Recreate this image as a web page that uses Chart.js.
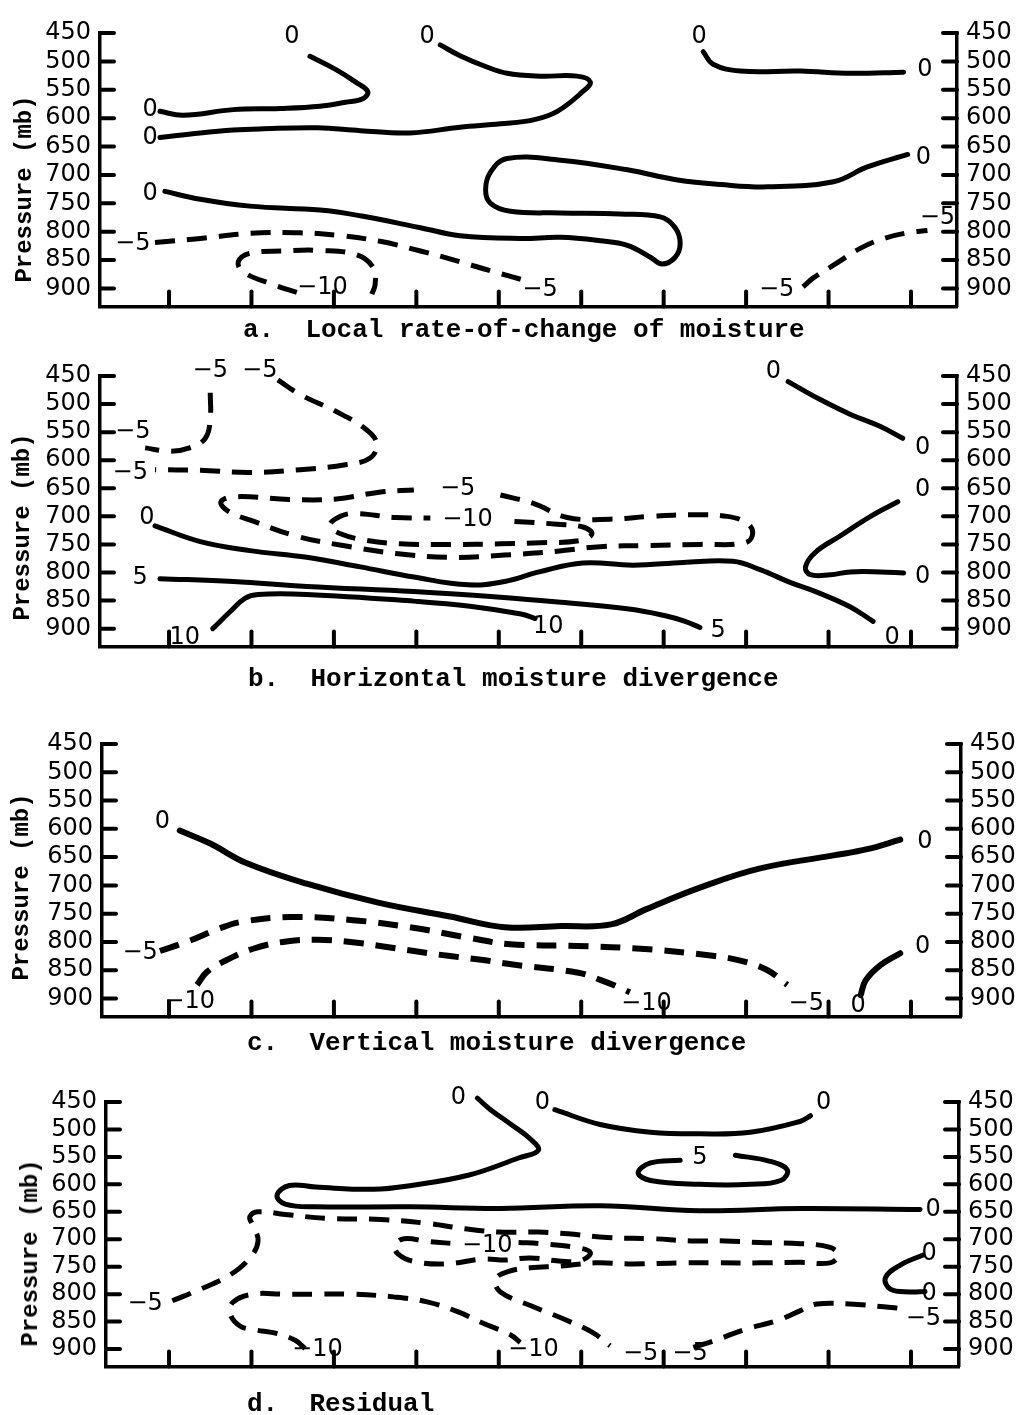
<!DOCTYPE html>
<html>
<head>
<meta charset="utf-8">
<script src="https://cdn.jsdelivr.net/npm/chart.js@4.4.1/dist/chart.umd.min.js"></script>
<style>
  body { margin: 0; background: #fff; }
  #page { position: relative; width: 1021px; height: 1415px; overflow: hidden; }
  canvas { position: absolute; left: 0; }
  .cap { position: absolute; font-family: "Liberation Mono", monospace; font-weight: bold; font-size: 26px; line-height: 26px; white-space: pre; color: #000; }
  .ytitle { position: absolute; font-family: "Liberation Mono", monospace; font-weight: bold; font-size: 24px; line-height: 24px; white-space: pre; color: #000;
            transform: translate(-50%, -50%) rotate(-90deg); }
</style>
</head>
<body>
<div id="page">
  <canvas id="pa" width="1021" height="330" style="top:0px"></canvas>
  <canvas id="pb" width="1021" height="330" style="top:340px"></canvas>
  <canvas id="pc" width="1021" height="340" style="top:700px"></canvas>
  <canvas id="pd" width="1021" height="330" style="top:1060px"></canvas>
  <div class="cap" style="left:243px; top:317px">a.  Local rate-of-change of moisture</div>
  <div class="cap" style="left:248px; top:666px">b.  Horizontal moisture divergence</div>
  <div class="cap" style="left:247px; top:1030px">c.  Vertical moisture divergence</div>
  <div class="cap" style="left:247px; top:1391px">d.  Residual</div>
  <div class="ytitle" style="left:25px; top:189px">Pressure (mb)</div>
  <div class="ytitle" style="left:23px; top:527px">Pressure (mb)</div>
  <div class="ytitle" style="left:22px; top:887px">Pressure (mb)</div>
  <div class="ytitle" style="left:31px; top:1253px">Pressure (mb)</div>
</div>
<script>
// x = grid column (ticks 1..10), y = pressure in mb
const pressureTicks = [450, 500, 550, 600, 650, 700, 750, 800, 850, 900];
const columns = [1, 2, 3, 4, 5, 6, 7, 8, 9, 10];

// a. local rate-of-change of moisture
const aZero1 = [[2.71,491],[3.02,514],[3.26,536],[3.41,553],[3.35,566],[3.14,572],[2.83,579],[2.35,583],[1.78,585],[1.17,595],[0.89,588]];
const aZero2 = [[4.29,471],[4.53,490],[4.84,509],[5.10,521],[5.50,526],[5.95,526],[6.11,536],[6.02,553],[5.71,588],[5.42,603],[5.02,610],[4.53,616],[3.92,626],[3.32,622],[2.80,617],[2.10,619],[1.78,621],[1.38,626],[0.89,634]];
const aZero3 = [[0.95,729],[1.38,743],[1.98,755],[2.83,762],[3.32,772],[4.05,793],[4.53,807],[5.26,812],[5.75,810],[6.23,816],[6.56,824],[6.84,845],[6.98,857],[7.14,845],[7.20,821],[7.14,793],[6.96,774],[6.47,769],[5.75,767],[5.14,764],[4.90,750],[4.84,726],[4.90,695],[5.10,671],[5.75,674],[6.56,691],[7.17,709],[7.69,717],[8.26,721],[9.06,712],[9.47,686],[9.96,664]];
const aZero4 = [[7.48,483],[7.60,505],[7.93,517],[8.66,517],[9.26,521],[9.91,519]];
const aMinus5a = [[0.83,819],[1.38,812],[1.98,803],[2.59,802],[3.08,807],[3.56,817],[4.05,834],[4.53,853],[4.90,869],[5.32,886]];
const aMinus10 = [[2.55,907],[2.26,893],[1.90,871],[1.84,853],[1.98,838],[2.38,834],[2.83,833],[3.28,841],[3.48,864],[3.50,893],[3.46,910]];
const aMinus5b = [[8.69,897],[8.82,881],[9.06,859],[9.39,829],[9.67,812],[9.96,802],[10.20,798]];
const aLabels = [['0',2.49,457],['0',4.13,457],['0',7.43,457],['0',0.77,586],['0',0.77,634],['0',0.77,734],['0',10.17,514],['0',10.15,669],
  ['\u22125',0.56,821],['\u221210',2.86,898],['\u22125',5.50,902],['\u22125',8.37,902],['\u22125',10.32,776]];

// b. horizontal moisture divergence
const bMinus5a = [[1.50,480],[1.50,526],[1.44,561],[1.25,578],[1.01,584],[0.71,578]];
const bMinus5b = [[2.32,457],[2.59,483],[3.01,512],[3.38,544],[3.52,570],[3.44,596],[3.14,608],[2.59,617],[1.98,622],[1.38,618],[0.83,617]];
const bMinus5c = [[5.02,662],[5.42,677],[5.83,702],[6.35,705],[6.84,700],[7.32,697],[7.77,700],[8.01,712],[8.08,730],[7.99,747],[7.44,750],[6.79,752],[6.23,754],[5.71,762],[5.07,769],[4.41,773],[3.75,766],[3.11,752],[2.54,735],[2.03,709],[1.72,691],[1.63,674],[1.81,665],[2.46,670],[3.03,669],[3.55,657],[3.97,653]];
const bMinus10 = [[5.19,709],[5.71,714],[6.02,719],[6.13,731],[5.99,743],[5.50,747],[5.02,749],[4.41,750],[3.80,749],[3.40,743],[3.08,731],[2.95,716],[3.08,700],[3.25,695],[3.75,702],[4.17,703]];
const bZero1 = [[0.83,717],[1.38,745],[1.98,761],[2.67,773],[3.32,790],[3.97,808],[4.63,822],[5.07,816],[5.49,799],[6.02,783],[6.63,787],[7.24,782],[7.84,780],[8.17,795],[8.54,818],[8.86,835],[9.26,861],[9.54,887]];
const bFive = [[0.89,811],[1.78,816],[2.67,825],[3.97,834],[5.02,844],[5.75,853],[6.58,865],[7.02,877],[7.26,887],[7.44,898]];
const bTen = [[1.53,900],[1.74,870],[1.92,846],[2.08,839],[2.67,839],[3.97,851],[4.65,860],[5.27,874],[5.44,882]];
const bZero2 = [[8.51,460],[8.90,492],[9.26,518],[9.63,540],[9.90,561]];
const bZero3 = [[9.84,674],[9.51,700],[9.14,735],[8.84,764],[8.72,790],[8.78,804],[9.02,804],[9.26,799],[9.63,799],[9.91,801]];
const bLabels = [['\u22125',1.50,440],['\u22125',2.10,440],['\u22125',0.56,549],['\u22125',0.53,622],['\u22125',4.50,651],['\u221210',4.62,706],
  ['0',0.73,703],['5',0.65,810],['10',1.19,917],['10',5.60,896],['5',7.66,903],['0',8.33,443],['0',10.14,578],['0',10.14,653],['0',10.14,808],['0',9.77,917]];

// c. vertical moisture divergence
const cZero1 = [[1.13,603],[1.50,626],[1.93,660],[2.67,697],[3.55,731],[4.41,755],[5.07,774],[5.75,772],[6.36,769],[6.79,742],[7.44,704],[8.17,670],[9.06,647],[9.47,636],[9.87,619]];
const cMinus5 = [[0.89,816],[1.25,798],[1.58,778],[1.86,765],[2.47,756],[3.20,761],[3.92,774],[4.65,793],[5.14,804],[5.95,807],[6.72,812],[7.57,824],[7.93,833],[8.26,850],[8.50,876]];
const cMinus10 = [[1.34,876],[1.46,853],[1.70,832],[2.02,812],[2.38,800],[2.80,796],[3.20,800],[3.60,808],[4.01,817],[4.41,825],[4.81,832],[5.17,840],[5.95,854],[6.23,867],[6.47,881],[6.59,889]];
const cZero2 = [[9.87,820],[9.63,841],[9.45,868],[9.39,894]];
const cLabels = [['0',0.92,588],['0',10.17,622],['\u22125',0.65,820],['\u221210',1.25,906],['\u221210',6.79,910],['\u22125',8.73,910],['0',10.14,809],['0',9.36,912]];

// d. residual
const dZero1 = [[4.74,443],[4.90,464],[5.15,491],[5.38,517],[5.48,538],[5.24,552],[4.64,583],[3.94,602],[3.48,609],[2.78,605],[2.46,602],[2.31,620],[2.41,636],[2.78,641],[3.94,641],[5.02,644],[6.23,639],[7.44,648],[8.66,644],[10.11,646]];
const dZero2 = [[5.68,464],[6.23,491],[6.84,505],[7.44,508],[8.05,505],[8.66,485],[8.78,475]];
const dFive = [[7.87,547],[8.29,558],[8.50,574],[8.42,593],[8.05,600],[7.44,600],[6.84,593],[6.69,579],[6.84,561],[7.20,556]];
const dMinus5a = [[1.04,812],[1.38,791],[1.74,765],[1.98,734],[2.08,703],[2.01,673],[1.98,659],[2.08,650],[2.41,655],[2.92,662],[3.57,664],[4.13,671],[4.59,681],[5.00,687],[5.48,687],[5.84,690],[6.32,697],[6.86,699],[7.33,703],[7.75,703],[8.17,706],[8.66,708],[9.02,715],[9.12,729],[9.02,743],[8.66,742],[8.17,743],[7.65,743],[7.19,743],[6.63,745],[6.17,743],[5.75,749],[5.38,752],[5.11,759],[4.96,773],[5.02,796],[5.42,823],[5.83,848],[6.15,871],[6.35,894]];
const dMinus10a = [[5.24,706],[5.51,708],[5.94,715],[6.11,724],[6.01,738],[5.76,740],[5.38,734],[5.08,738],[4.82,736],[4.34,745],[3.96,740],[3.78,727],[3.74,712],[3.85,699],[4.13,704],[4.47,708]];
const dMinus10b = [[2.65,899],[2.53,884],[2.29,871],[2.04,865],[1.86,858],[1.74,835],[1.78,814],[2.02,800],[2.38,800],[2.80,800],[3.20,800],[3.72,805],[4.13,814],[4.50,832],[4.81,853],[5.14,874],[5.26,888]];
const dMinus5b = [[7.36,897],[7.65,883],[7.97,865],[8.38,848],[8.66,830],[8.86,818],[9.26,818],[9.67,823],[9.87,826]];
const dZero3 = [[10.14,729],[9.87,747],[9.69,770],[9.75,791],[9.99,796],[10.17,795]];
const dLabels = [['0',4.51,443],['0',5.53,452],['0',8.94,452],['5',7.44,552],['0',10.27,646],['\u221210',4.86,712],['0',10.22,726],['0',10.22,800],
  ['\u22125',10.15,844],['\u22125',0.71,818],['\u221210',2.80,902],['\u221210',5.42,902],['\u22125',6.72,909],['\u22125',7.32,909]];

const SOLID = false, DASH = true;

const panels = [
  { id: 'pa', padTop: 33, padBottom: 17, left: 100, right: 957, labels: aLabels,
    lines: [[aZero1,SOLID],[aZero2,SOLID],[aZero3,SOLID],[aZero4,SOLID],[aMinus5a,DASH],[aMinus10,DASH],[aMinus5b,DASH]] },
  { id: 'pb', padTop: 36, padBottom: 17, left: 100, right: 957, labels: bLabels,
    lines: [[bMinus5a,DASH],[bMinus5b,DASH],[bMinus5c,DASH],[bMinus10,DASH],[bZero1,SOLID],[bFive,SOLID],[bTen,SOLID],[bZero2,SOLID],[bZero3,SOLID]] },
  { id: 'pc', padTop: 44, padBottom: 21, left: 102, right: 961, labels: cLabels, lineWidth: 6,
    lines: [[cZero1,SOLID],[cMinus5,DASH],[cMinus10,DASH],[cZero2,SOLID]] },
  { id: 'pd', padTop: 42, padBottom: 17, left: 106, right: 959, labels: dLabels,
    lines: [[dZero1,SOLID],[dZero2,SOLID],[dFive,SOLID],[dMinus5a,DASH],[dMinus10a,DASH],[dMinus10b,DASH],[dMinus5b,DASH],[dZero3,SOLID]] }
];

const W = 1021;
const tickFont = { family: 'DejaVu Sans', size: 24 };

function yAxis(pos, width) {
  return {
    type: 'linear', position: pos, reverse: true, min: 450, max: 932,
    afterBuildTicks: s => { s.ticks = pressureTicks.map(v => ({ value: v })); },
    afterFit: s => { s.width = width; },
    ticks: { font: tickFont, color: '#000', padding: 9, autoSkip: false },
    grid: { display: false, drawTicks: false },
    border: { display: true, color: '#000', width: 3.5 }
  };
}

function makePanel(p) {
  const lw = p.lineWidth || 5;
  const contourPlugin = {
    id: 'contour_' + p.id,
    afterDraw(chart) {
      const { ctx, chartArea: a, scales } = chart;
      ctx.save();
      ctx.strokeStyle = '#000';
      ctx.lineWidth = 4;
      ctx.lineCap = 'round';
      const seg = (x1, y1, x2, y2) => { ctx.beginPath(); ctx.moveTo(x1, y1); ctx.lineTo(x2, y2); ctx.stroke(); };
      scales.y.ticks.forEach(t => { const y = scales.y.getPixelForValue(t.value); seg(a.left, y, a.left + 14, y); });
      scales.y2.ticks.forEach(t => { const y = scales.y2.getPixelForValue(t.value); seg(a.right - 14, y, a.right, y); });
      scales.x.ticks.forEach(t => { const x = scales.x.getPixelForValue(t.value); seg(x, a.bottom, x, a.bottom - 15); });
      ctx.fillStyle = '#000';
      ctx.font = '24px "DejaVu Sans"';
      ctx.textAlign = 'center';
      ctx.textBaseline = 'middle';
      p.labels.forEach(([txt, x, mb]) => {
        ctx.fillText(txt, scales.x.getPixelForValue(x), scales.y.getPixelForValue(mb));
      });
      ctx.restore();
    }
  };

  new Chart(document.getElementById(p.id), {
    type: 'scatter',
    data: {
      datasets: p.lines.map(([pts, dashed]) => ({
        data: pts.map(([x, y]) => ({ x, y })),
        showLine: true,
        borderColor: '#000',
        borderWidth: lw,
        borderDash: dashed ? [20, 12] : [],
        borderCapStyle: dashed ? 'butt' : 'round',
        borderJoinStyle: 'round',
        pointRadius: 0,
        tension: 0.4,
        fill: false,
        clip: false
      }))
    },
    options: {
      responsive: false,
      devicePixelRatio: 1,
      animation: false,
      events: [],
      layout: { padding: { top: p.padTop, bottom: p.padBottom, left: 0, right: 0 } },
      elements: { line: { capBezierPoints: false } },
      plugins: { legend: { display: false }, tooltip: { enabled: false }, title: { display: false } },
      scales: {
        x: {
          type: 'linear',
          min: 1 - (169 - p.left) / 82.4,
          max: 10 + (p.right - 911) / 82.4,
          afterBuildTicks: s => { s.ticks = columns.map(v => ({ value: v })); },
          afterFit: s => { s.height = 0; },
          ticks: { display: false },
          grid: { display: false, drawTicks: false },
          border: { display: true, color: '#000', width: 3.5 }
        },
        y: yAxis('left', p.left),
        y2: yAxis('right', W - p.right)
      }
    },
    plugins: [contourPlugin]
  });
}

panels.forEach(makePanel);
</script>
</body>
</html>
